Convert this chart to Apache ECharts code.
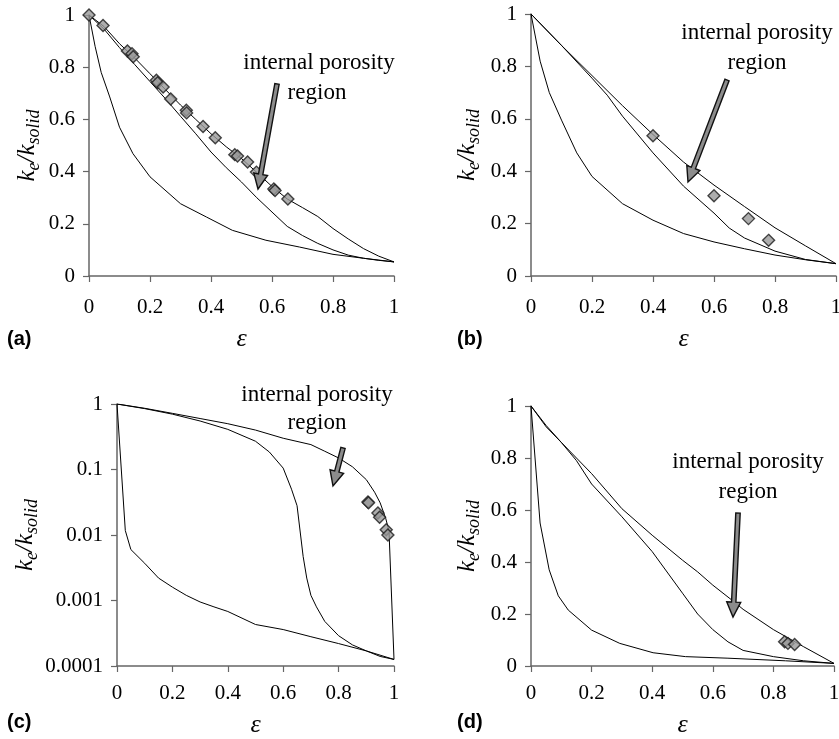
<!DOCTYPE html>
<html>
<head>
<meta charset="utf-8">
<script src="https://cdn.jsdelivr.net/npm/echarts@6/dist/echarts.min.js"></script>
<style>
  html, body { margin: 0; padding: 0; background: #fff; }
  #chart { width: 839px; height: 739px; }
</style>
</head>
<body>
<div id="chart"></div>
<script>
// [porosity, ke/ksolid]
var A_TOP = [[0,1],[0.05,0.955],[0.1,0.89],[0.15,0.835],[0.2,0.775],[0.25,0.715],[0.3,0.655],[0.35,0.6],[0.4,0.545],[0.45,0.495],[0.5,0.45],[0.55,0.397],[0.6,0.343],[0.65,0.295],[0.7,0.262],[0.75,0.228],[0.8,0.182],[0.85,0.142],[0.9,0.105],[0.95,0.076],[1,0.054]];
var A_MID = [[0,1],[0.05,0.945],[0.1,0.875],[0.15,0.81],[0.2,0.745],[0.25,0.68],[0.3,0.612],[0.35,0.545],[0.4,0.475],[0.45,0.415],[0.5,0.36],[0.55,0.3],[0.6,0.245],[0.65,0.19],[0.7,0.155],[0.75,0.125],[0.8,0.1],[0.85,0.08],[0.9,0.068],[0.95,0.06],[1,0.054]];
var A_BOT = [[0,1],[0.02,0.88],[0.04,0.78],[0.068,0.686],[0.1,0.57],[0.144,0.469],[0.2,0.38],[0.3,0.277],[0.385,0.226],[0.47,0.175],[0.58,0.137],[0.69,0.111],[0.8,0.083],[0.9,0.068],[1,0.054]];
var A_PTS = [[0,1],[0.046,0.96],[0.126,0.862],[0.141,0.852],[0.145,0.84],[0.221,0.75],[0.225,0.74],[0.243,0.724],[0.268,0.678],[0.319,0.635],[0.32,0.625],[0.374,0.573],[0.414,0.53],[0.478,0.465],[0.487,0.46],[0.52,0.437],[0.549,0.398],[0.606,0.333],[0.61,0.328],[0.652,0.295]];

var B_TOP = [[0,1],[0.1,0.88],[0.2,0.765],[0.3,0.65],[0.4,0.54],[0.5,0.435],[0.6,0.347],[0.7,0.265],[0.8,0.184],[0.9,0.115],[1,0.047]];
var B_MID = [[0,1],[0.1,0.88],[0.2,0.755],[0.25,0.69],[0.3,0.61],[0.4,0.47],[0.5,0.343],[0.6,0.24],[0.65,0.183],[0.7,0.145],[0.8,0.095],[0.9,0.063],[1,0.047]];
var B_BOT = [[0,1],[0.03,0.82],[0.06,0.7],[0.1,0.595],[0.15,0.47],[0.2,0.38],[0.3,0.276],[0.4,0.213],[0.5,0.162],[0.6,0.13],[0.7,0.104],[0.8,0.08],[0.9,0.062],[1,0.047]];
var B_PTS = [[0.4,0.535],[0.6,0.306],[0.713,0.219],[0.779,0.136]];

var C_TOP = [[0,1],[0.1,0.86],[0.2,0.72],[0.3,0.6],[0.4,0.5],[0.5,0.4],[0.6,0.3],[0.7,0.24],[0.75,0.19],[0.8,0.15],[0.85,0.11],[0.9,0.07],[0.93,0.045],[0.95,0.031],[0.97,0.018],[0.982,0.0115],[1,0.000126]];
var C_MID = [[0,1],[0.1,0.85],[0.2,0.7],[0.3,0.55],[0.4,0.41],[0.5,0.27],[0.55,0.185],[0.6,0.105],[0.63,0.05],[0.65,0.028],[0.672,0.0047],[0.685,0.0022],[0.7,0.0012],[0.72,0.0008],[0.75,0.00048],[0.8,0.00029],[0.85,0.00021],[0.9,0.00017],[0.95,0.00014],[1,0.000126]];
var C_BOT = [[0,1],[0.03,0.0117],[0.05,0.006],[0.1,0.0037],[0.15,0.0022],[0.2,0.0016],[0.25,0.0012],[0.3,0.00095],[0.35,0.0008],[0.4,0.00068],[0.5,0.00043],[0.6,0.00036],[0.7,0.00028],[0.8,0.00022],[0.9,0.00017],[1,0.000126]];
var C_PTS = [[0.906,0.032],[0.908,0.031],[0.942,0.0217],[0.948,0.0187],[0.972,0.012],[0.978,0.01]];

var D_TOP = [[0,1],[0.05,0.925],[0.1,0.86],[0.2,0.74],[0.3,0.605],[0.4,0.503],[0.5,0.407],[0.55,0.362],[0.6,0.311],[0.67,0.247],[0.7,0.218],[0.8,0.14],[0.9,0.074],[1,0.01]];
var D_MID = [[0,1],[0.05,0.92],[0.1,0.86],[0.15,0.79],[0.2,0.7],[0.3,0.574],[0.4,0.44],[0.5,0.28],[0.55,0.2],[0.6,0.14],[0.65,0.093],[0.7,0.06],[0.8,0.036],[0.9,0.02],[1,0.01]];
var D_BOT = [[0,1],[0.03,0.55],[0.06,0.37],[0.09,0.27],[0.123,0.215],[0.2,0.138],[0.293,0.087],[0.403,0.051],[0.51,0.036],[0.65,0.03],[0.84,0.02],[1,0.01]];
var D_PTS = [[0.837,0.093],[0.848,0.087],[0.87,0.083]];

var PANEL_NAMES = ['(a)', '(b)', '(c)', '(d)'];

var SERIF = '"Liberation Serif", "Times New Roman", serif';
var AX = '#666';

function xAxis(gi, margin, gap) {
  return {
    gridIndex: gi, type: 'value', min: 0, max: 1, interval: 0.2,
    axisLine: { lineStyle: { color: AX, width: 1.5 } },
    axisTick: { show: true, length: 6, lineStyle: { color: AX, width: 1.2 } },
    axisLabel: { margin: margin, fontFamily: SERIF, fontSize: 21, color: '#000',
      formatter: function (v) { return String(+v.toFixed(1)); } },
    splitLine: { show: false },
    name: 'ε', nameLocation: 'middle', nameGap: gap,
    nameTextStyle: { fontFamily: SERIF, fontStyle: 'italic', fontSize: 26, color: '#000' }
  };
}
function yAxis(gi, gap, isLog) {
  var ax = {
    gridIndex: gi,
    axisLine: { show: true, lineStyle: { color: AX, width: 1.5 } },
    axisTick: { show: true, length: 6, lineStyle: { color: AX, width: 1.2 } },
    axisLabel: { margin: 14, fontFamily: SERIF, fontSize: 21, color: '#000' },
    splitLine: { show: false },
    name: '{i|k}{s|e}{i|/k}{s|solid}', nameLocation: 'middle', nameGap: gap,
    nameTextStyle: {
      color: '#000',
      rich: {
        i: { fontFamily: SERIF, fontStyle: 'italic', fontSize: 25, lineHeight: 32, color: '#000' },
        s: { fontFamily: SERIF, fontStyle: 'italic', fontSize: 18, lineHeight: 32, verticalAlign: 'bottom', color: '#000' }
      }
    }
  };
  if (isLog) {
    ax.type = 'log'; ax.logBase = 10; ax.min = 0.0001; ax.max = 1;
    ax.axisLabel.formatter = function (v) { return String(+(+v).toPrecision(1)); };
  } else {
    ax.type = 'value'; ax.min = 0; ax.max = 1; ax.interval = 0.2;
    ax.axisLabel.formatter = function (v) { return String(+v.toFixed(1)); };
  }
  return ax;
}
function curve(gi, data) {
  return { type: 'line', xAxisIndex: gi, yAxisIndex: gi, data: data, showSymbol: false,
    lineStyle: { color: '#000', width: 1 }, silent: true, animation: false };
}
function points(gi, data) {
  return { type: 'scatter', xAxisIndex: gi, yAxisIndex: gi, data: data, symbol: 'diamond', symbolSize: 12,
    itemStyle: { color: '#999', borderColor: '#1a1a1a', borderWidth: 1.4 }, animation: false, z: 5 };
}

// block arrow (tail -> tip) in pixels
function arrow(x1, y1, x2, y2) {
  var dx = x2 - x1, dy = y2 - y1, len = Math.sqrt(dx * dx + dy * dy);
  var ux = dx / len, uy = dy / len, nx = -uy, ny = ux;
  var hl = 15, hw = 7, sw = 2.2;
  var bx = x2 - ux * hl, by = y2 - uy * hl;
  var pts = [
    [x1 + nx * sw, y1 + ny * sw], [bx + nx * sw, by + ny * sw], [bx + nx * hw, by + ny * hw],
    [x2, y2],
    [bx - nx * hw, by - ny * hw], [bx - nx * sw, by - ny * sw], [x1 - nx * sw, y1 - ny * sw]
  ];
  return { type: 'polygon', shape: { points: pts }, style: { fill: '#8c8c8c', stroke: '#111', lineWidth: 1.4 }, z: 10 };
}
function label(text, x, y) {
  return { type: 'text', x: x, y: y, z: 10,
    style: { text: text, font: '23px ' + SERIF, fill: '#000', align: 'center', verticalAlign: 'middle' } };
}

var graphics = [];
[[7, 329], [457, 329], [7, 712], [457, 712]].forEach(function (p, i) {
  graphics.push({ type: 'text', x: p[0], y: p[1],
    style: { text: PANEL_NAMES[i], font: 'bold 20px "Liberation Sans", Arial, sans-serif', fill: '#000' } });
});
graphics.push(label('internal porosity', 319, 63), label('region', 317, 93), arrow(277, 84, 258, 189));
graphics.push(label('internal porosity', 757, 33), label('region', 757, 63), arrow(727, 80, 688, 182));
graphics.push(label('internal porosity', 317, 395), label('region', 317, 423), arrow(343, 448, 333, 486));
graphics.push(label('internal porosity', 748, 462), label('region', 748, 492), arrow(738, 513, 733, 617));

var myChart = echarts.init(document.getElementById('chart'));
var option = {
  animation: false,
  backgroundColor: '#fff',
  grid: [
    { left: 89, top: 15, width: 305, height: 261, outerBoundsMode: 'none' },
    { left: 531, top: 14, width: 305, height: 262, outerBoundsMode: 'none' },
    { left: 117, top: 404, width: 277, height: 262, outerBoundsMode: 'none' },
    { left: 531, top: 406, width: 303, height: 260, outerBoundsMode: 'none' }
  ],
  xAxis: [xAxis(0, 21, 50), xAxis(1, 21, 50), xAxis(2, 17, 46), xAxis(3, 17, 46)],
  yAxis: [yAxis(0, 46, false), yAxis(1, 48, false), yAxis(2, 74, true), yAxis(3, 48, false)],
  series: [
    curve(0, A_TOP), curve(0, A_MID), curve(0, A_BOT), points(0, A_PTS),
    curve(1, B_TOP), curve(1, B_MID), curve(1, B_BOT), points(1, B_PTS),
    curve(2, C_TOP), curve(2, C_MID), curve(2, C_BOT), points(2, C_PTS),
    curve(3, D_TOP), curve(3, D_MID), curve(3, D_BOT), points(3, D_PTS)
  ],
  graphic: graphics
};
myChart.setOption(option);
</script>
</body>
</html>
